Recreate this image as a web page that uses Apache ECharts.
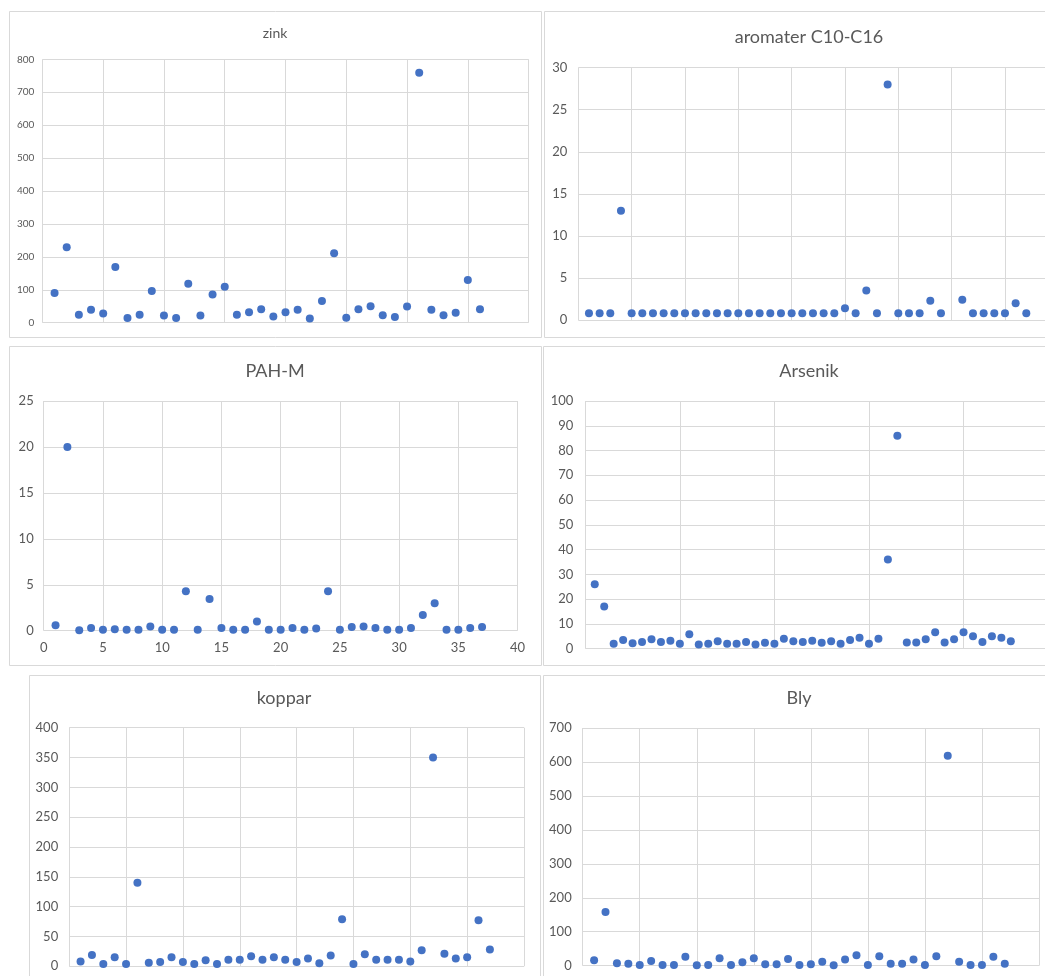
<!DOCTYPE html>
<html>
<head>
<meta charset="utf-8">
<script src="https://cdn.jsdelivr.net/npm/echarts@6/dist/echarts.min.js"></script>
<style>
  html, body { margin: 0; padding: 0; background: #ffffff; }
  #chart { width: 1045px; height: 976px; }
</style>
</head>
<body>
<div id="chart"></div>
<script>
// ---- Data (sample number on x, measured value on y) ----
const titles = ['zink', 'aromater C10-C16', 'PAH-M', 'Arsenik', 'koppar', 'Bly'];

const zink = [90, 229, 24, 39, 28, 169, 14, 24, 96, 22, 14, 118, 22, 86, 109, 24, 32, 41, 19, 32,
  39, 13, 66, 211, 15, 41, 50, 23, 17, 49, 759, 39, 23, 30, 130, 41];

const aromater = [0.8, 0.8, 0.8, 13, 0.8, 0.8, 0.8, 0.8, 0.8, 0.8, 0.8, 0.8, 0.8, 0.8, 0.8, 0.8,
  0.8, 0.8, 0.8, 0.8, 0.8, 0.8, 0.8, 0.8, 1.4, 0.8, 3.5, 0.8, 28, 0.8, 0.8, 0.8, 2.3, 0.8, null,
  2.4, 0.8, 0.8, 0.8, 0.8, 2.0, 0.8];

const pahM = [0.6, 20, 0.05, 0.3, 0.1, 0.15, 0.1, 0.1, 0.45, 0.1, 0.1, 4.3, 0.1, 3.45, 0.3, 0.1,
  0.1, 1.0, 0.1, 0.1, 0.3, 0.1, 0.25, 4.3, 0.1, 0.4, 0.45, 0.3, 0.1, 0.1, 0.3, 1.7, 3.0, 0.1, 0.1,
  0.3, 0.4];

const arsenik = [26, 17, 2, 3.5, 2.2, 2.7, 3.8, 2.7, 3.2, 2, 5.8, 1.7, 2, 3, 2, 2, 2.7, 1.7, 2.4, 2,
  4, 3, 2.7, 3.2, 2.4, 3, 2, 3.5, 4.4, 2, 4, 36, 86, 2.5, 2.5, 3.8, 6.6, 2.5, 3.8, 6.6, 5, 2.7, 5,
  4.4, 3];

const koppar = [8, 19, 4, 15, 4, 140, 6, 7, 15, 7, 4, 10, 4, 11, 11, 17, 11, 15, 11, 7, 13, 5, 18,
  79, 4, 20, 11, 11, 11, 8, 27, 350, 21, 13, 15, 77, 28];

const bly = [16, 158, 7, 6, 2, 14, 2, 2, 26, 1, 2, 22, 2, 10, 22, 4, 4, 20, 2, 4, 12, 1, 18, 31, 2,
  28, 6, 6, 18, 2, 28, 618, 12, 2, 2, 26, 6];

const seriesValues = [zink, aromater, pahM, arsenik, koppar, bly];

// Axis scales per panel
const xMax = [40, 45, 40, 50, 40, 40];
const xStep = [5, 5, 5, 10, 5, 5];
const yMax = [800, 30, 25, 100, 400, 700];
const yStep = [100, 5, 5, 10, 50, 100];
const showXLabels = [false, false, true, false, false, false];

// ---- Layout ----
const plots = [
  { left: 42.4, top: 59.3, width: 486.2, height: 263.4 },
  { left: 578.3, top: 67.7, width: 480, height: 252.3 },
  { left: 43.7, top: 401, width: 473.9, height: 229.7 },
  { left: 585.3, top: 401, width: 472.8, height: 247.7 },
  { left: 69.2, top: 727.7, width: 454.8, height: 238.6 },
  { left: 582.7, top: 728, width: 456.3, height: 237.7 }
];
const boxes = [
  [9, 11, 532, 326], [544, 11, 530, 326],
  [9, 346, 532, 319], [543, 346, 530, 319],
  [29, 675, 511, 400], [543, 675, 530, 400]
];
const titlePos = [
  [275, 33, 14], [809, 37.5, 18],
  [275, 371, 18], [809, 371, 18],
  [284, 698.5, 18], [799, 698.5, 18]
];
const labelSize = [10, 13, 13, 13, 13, 13];
const labelMargin = [8, 11, 10, 12, 11, 11];

const FONT = 'Lato, "Open Sans", "Liberation Sans", sans-serif';
const GRID_COLOR = '#d9d9d9';
const TEXT_COLOR = '#595959';

const grid = [], xAxis = [], yAxis = [], series = [], title = [], graphic = [];

for (let i = 0; i < 6; i++) {
  grid.push(Object.assign({ containLabel: false, outerBoundsMode: 'none' }, plots[i]));
  xAxis.push({
    type: 'value', gridIndex: i, min: 0, max: xMax[i], interval: xStep[i],
    axisLine: { show: false }, axisTick: { show: false },
    axisLabel: { show: showXLabels[i], color: TEXT_COLOR, fontSize: 13, fontFamily: FONT, margin: 11 },
    splitLine: { show: true, showMinLine: true, showMaxLine: true, lineStyle: { color: GRID_COLOR, width: 1 } }
  });
  yAxis.push({
    type: 'value', gridIndex: i, min: 0, max: yMax[i], interval: yStep[i],
    axisLine: { show: false }, axisTick: { show: false },
    axisLabel: { color: TEXT_COLOR, fontSize: labelSize[i], fontFamily: FONT, margin: labelMargin[i] },
    splitLine: { show: true, showMinLine: true, showMaxLine: true, lineStyle: { color: GRID_COLOR, width: 1 } }
  });
  const pts = [];
  seriesValues[i].forEach((v, k) => { if (v !== null) pts.push([k + 1, v]); });
  series.push({
    name: titles[i], type: 'scatter', xAxisIndex: i, yAxisIndex: i,
    data: pts, symbol: 'circle', symbolSize: 8,
    itemStyle: { color: '#4472C4', opacity: 1 }, silent: true, animation: false
  });
  const [tx, ty, ts] = titlePos[i];
  const lh = Math.round(ts * 1.2);
  title.push({
    text: titles[i], left: tx, top: ty - lh / 2, textAlign: 'center', padding: 0,
    textStyle: { fontSize: ts, fontWeight: 'normal', color: TEXT_COLOR, fontFamily: FONT, lineHeight: lh }
  });
  const [bx, by, bw, bh] = boxes[i];
  graphic.push({
    type: 'rect', silent: true, z: -10,
    shape: { x: bx + 0.5, y: by + 0.5, width: bw, height: bh },
    style: { fill: 'none', stroke: GRID_COLOR, lineWidth: 1 }
  });
}

const chart = echarts.init(document.getElementById('chart'), null, { renderer: 'canvas', width: 1045, height: 976 });
chart.setOption({
  animation: false,
  backgroundColor: '#ffffff',
  title, grid, xAxis, yAxis, series, graphic
});
</script>
</body>
</html>
